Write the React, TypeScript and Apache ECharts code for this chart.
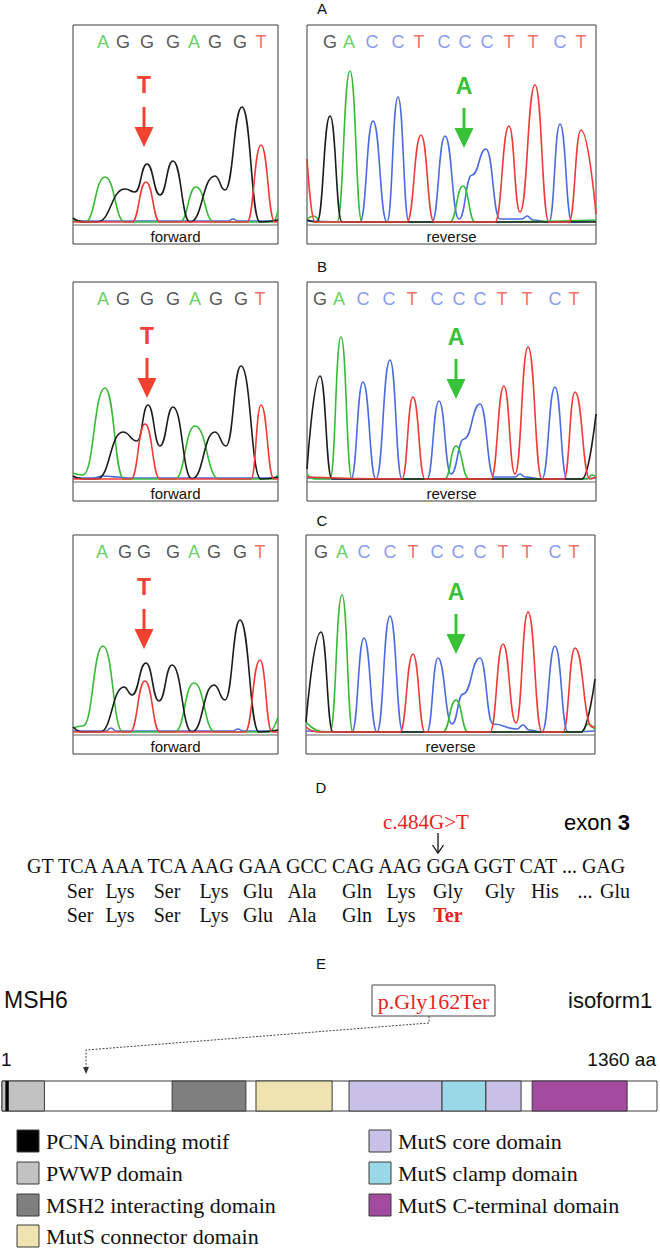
import React, { useEffect, useRef } from 'react';
import * as echarts from 'echarts';

type Pt = [number, number];

// ---------------- Panel A ----------------
const aFwdBlue: Pt[] = [[0, 1], [155, 1], [160, 3], [165, 1], [205, 1]];
const aFwdGreen: Pt[] = [[0, 2], [12, 0], [32, 45], [52, 0], [107, 0], [123, 35], [141, 0], [200, 0], [205, 12]];
const aFwdBlack: Pt[] = [[0, 4], [11, 0], [24, 0], [52, 33], [62, 30], [74, 58], [87, 27], [100, 61], [117, 0], [142, 46], [152, 32], [169, 115], [187, 0], [205, 2]];
const aFwdRed: Pt[] = [[0, 0], [59, 0], [73, 40], [87, 0], [174, 0], [188, 77], [202, 0], [205, 0]];
const aFwdCalls = ['A', 'G', 'G', 'G', 'A', 'G', 'G', 'T'];
const aFwdCallPos = [30, 50, 74, 100, 121, 142, 167, 188];

const aRevBlue: Pt[] = [[0, 1], [53, 0], [66, 101], [80, 0], [91, 125], [102, 0], [125, 0], [138, 86], [152, 3], [165, 47], [179, 73], [193, 3], [215, 3], [220, 6], [226, 2], [242, 0], [253, 98], [265, 0], [289, 1]];
const aRevGreen: Pt[] = [[0, 3], [7, 6], [14, 0], [30, 0], [43, 151], [55, 0], [143, 0], [156, 36], [168, 0], [289, 2]];
const aRevBlack: Pt[] = [[0, 2], [10, 0], [23, 106], [35, 0], [289, 0]];
const aRevRed: Pt[] = [[0, 63], [8, 0], [100, 0], [114, 87], [127, 0], [188, 0], [202, 96], [213, 10], [228, 137], [242, 0], [262, 0], [274, 92], [289, 8]];
const aRevCalls = ['G', 'A', 'C', 'C', 'T', 'C', 'C', 'C', 'T', 'T', 'C', 'T'];
const aRevCallPos = [23, 42, 65, 91, 112, 137, 158, 180, 202, 226, 253, 274];

// ---------------- Panel B ----------------
const bFwdBlue: Pt[] = [[0, 1], [20, 1], [30, 3], [45, 2], [55, 1], [205, 1]];
const bFwdGreen: Pt[] = [[0, 6], [10, 4], [32, 91], [51, 0], [102, 0], [122, 53], [146, 0], [200, 0], [205, 4]];
const bFwdBlack: Pt[] = [[0, 3], [10, 0], [24, 0], [50, 47], [64, 38], [75, 74], [87, 33], [100, 72], [119, 0], [142, 47], [153, 33], [168, 113], [188, 0], [205, 2]];
const bFwdRed: Pt[] = [[0, 0], [58, 0], [72, 55], [87, 0], [178, 0], [188, 74], [201, 0], [205, 0]];
const bFwdCalls = ['A', 'G', 'G', 'G', 'A', 'G', 'G', 'T'];
const bFwdCallPos = [30, 50, 74, 100, 122, 143, 168, 187];

const bRevBlue: Pt[] = [[0, 1], [44, 0], [56, 97], [69, 0], [83, 119], [95, 0], [120, 0], [132, 78], [144, 5], [157, 40], [173, 75], [187, 2], [208, 2], [213, 5], [218, 2], [235, 0], [248, 92], [260, 0], [289, 1]];
const bRevGreen: Pt[] = [[0, 5], [8, 0], [23, 0], [34, 142], [45, 0], [138, 0], [149, 33], [162, 0], [280, 0], [285, 4], [289, 2]];
const bRevBlack: Pt[] = [[0, 10], [13, 103], [25, 0], [275, 0], [289, 65]];
const bRevRed: Pt[] = [[0, 2], [95, 0], [106, 82], [118, 0], [184, 0], [197, 93], [208, 5], [221, 132], [235, 0], [257, 0], [268, 87], [283, 0], [289, 2]];
const bRevCalls = ['G', 'A', 'C', 'C', 'T', 'C', 'C', 'C', 'T', 'T', 'C', 'T'];
const bRevCallPos = [13, 32, 56, 82, 105, 130, 152, 173, 195, 220, 248, 267];

// ---------------- Panel C ----------------
const cFwdBlue: Pt[] = [[0, 1], [33, 1], [38, 4], [43, 1], [160, 1], [165, 3], [170, 1], [205, 1]];
const cFwdGreen: Pt[] = [[0, 4], [10, 6], [30, 86], [50, 0], [102, 0], [121, 49], [142, 0], [196, 0], [205, 15]];
const cFwdBlack: Pt[] = [[0, 5], [10, 0], [27, 0], [51, 45], [59, 37], [73, 69], [86, 31], [99, 67], [119, 0], [141, 47], [152, 32], [167, 112], [186, 0], [205, 2]];
const cFwdRed: Pt[] = [[0, 0], [57, 0], [72, 51], [87, 0], [172, 0], [187, 72], [199, 0], [205, 0]];
const cFwdCalls = ['A', 'G', 'G', 'G', 'A', 'G', 'G', 'T'];
const cFwdCallPos = [29, 52, 71, 100, 121, 141, 167, 187];

const cRevBlue: Pt[] = [[0, 1], [46, 0], [58, 94], [71, 0], [84, 116], [97, 0], [121, 0], [132, 74], [146, 8], [157, 38], [174, 74], [187, 8], [211, 3], [217, 7], [223, 2], [236, 0], [249, 86], [262, 0], [289, 1]];
const cRevGreen: Pt[] = [[0, 10], [17, 0], [24, 0], [36, 137], [47, 0], [137, 0], [150, 32], [162, 0], [276, 0], [282, 8], [289, 2]];
const cRevBlack: Pt[] = [[0, 10], [15, 100], [27, 0], [275, 0], [289, 53]];
const cRevRed: Pt[] = [[0, 5], [12, 0], [94, 0], [107, 78], [119, 0], [184, 0], [197, 88], [210, 9], [222, 120], [236, 0], [257, 0], [269, 84], [286, 5], [289, 5]];
const cRevCalls = ['G', 'A', 'C', 'C', 'T', 'C', 'C', 'C', 'T', 'T', 'C', 'T'];
const cRevCallPos = [15, 36, 58, 84, 107, 131, 152, 174, 197, 221, 249, 268];

// ---------------- Panel D ----------------
const codons = ['GT', 'TCA', 'AAA', 'TCA', 'AAG', 'GAA', 'GCC', 'CAG', 'AAG', 'GGA', 'GGT', 'CAT', '...', 'GAG'];
const refAminoAcids = ['Ser', 'Lys', 'Ser', 'Lys', 'Glu', 'Ala', 'Gln', 'Lys', 'Gly', 'Gly', 'His', '...', 'Glu'];
const mutAminoAcids = ['Ser', 'Lys', 'Ser', 'Lys', 'Glu', 'Ala', 'Gln', 'Lys', 'Ter'];
const variantLabel = 'c.484G>T';
const proteinVariant = 'p.Gly162Ter';

// ---------------- Panel E ----------------
const proteinLength = 1360;
const domainNames = ['PCNA binding motif', 'PWWP domain', 'MSH2 interacting domain', 'MutS connector domain', 'MutS core domain', 'MutS clamp domain', 'MutS C-terminal domain'];
// [start aa, end aa, domain index] ; -1 = backbone
const domainSegments: [number, number, number][] = [
  [1, 1360, -1], [1, 89, 1], [8, 15, 0], [354, 507, 2], [528, 686, 3],
  [721, 914, 4], [914, 1005, 5], [1005, 1078, 4], [1101, 1298, 6],
];

// ---------------- styles / layout ----------------
const domainColors = ['#000000', '#c2c2c2', '#7f7f7f', '#f0e3b2', '#c8c0e6', '#9ad8e8', '#a24b9f'];
const TRACE_COLORS = ['#4a6be2', '#36bb36', '#1c1c1c', '#f03a36']; // C, A, G, T
const CALL_COLORS: Record<string, string> = { A: '#3cc23c', C: '#6b80ee', G: '#2a2a2a', T: '#f24a3c' };
const MUT_COLORS: Record<string, string> = { A: '#38c238', T: '#f2412f' };
const BOX_H = 219;
const STRIP = 22;
const SANS = '"Liberation Sans", Arial, sans-serif';
const SERIF = '"Liberation Serif", "Times New Roman", serif';

const panels = [
  { left: 73, top: 25, width: 205, traces: [aFwdBlue, aFwdGreen, aFwdBlack, aFwdRed], calls: aFwdCalls, pos: aFwdCallPos, label: 'forward', mut: 'T', mx: 144, my: 85 },
  { left: 307, top: 25, width: 289, traces: [aRevBlue, aRevGreen, aRevBlack, aRevRed], calls: aRevCalls, pos: aRevCallPos, label: 'reverse', mut: 'A', mx: 464, my: 86 },
  { left: 73, top: 282, width: 205, traces: [bFwdBlue, bFwdGreen, bFwdBlack, bFwdRed], calls: bFwdCalls, pos: bFwdCallPos, label: 'forward', mut: 'T', mx: 147, my: 336 },
  { left: 307, top: 282, width: 289, traces: [bRevBlue, bRevGreen, bRevBlack, bRevRed], calls: bRevCalls, pos: bRevCallPos, label: 'reverse', mut: 'A', mx: 456, my: 337 },
  { left: 73, top: 535, width: 205, traces: [cFwdBlue, cFwdGreen, cFwdBlack, cFwdRed], calls: cFwdCalls, pos: cFwdCallPos, label: 'forward', mut: 'T', mx: 144, my: 587 },
  { left: 306, top: 535, width: 289, traces: [cRevBlue, cRevGreen, cRevBlack, cRevRed], calls: cRevCalls, pos: cRevCallPos, label: 'reverse', mut: 'A', mx: 456, my: 592 },
];
const panelLetters: [string, number, number][] = [['A', 322, 8], ['B', 322, 266], ['C', 322, 520], ['D', 321, 787], ['E', 321, 963]];
const aaX = [80, 120, 167, 214, 258, 302, 357, 401, 448, 500, 545, 585, 615];
const legendSlots: [number, number][] = [[17, 1141], [17, 1173], [17, 1205], [17, 1236], [369, 1141], [369, 1173], [369, 1205]];
const legendOrder = [0, 1, 2, 3, 4, 5, 6];

function txt(text: string, x: number, y: number, font: string, fill = '#111', align = 'center', extra: any = {}) {
  return {
    type: 'text', silent: true, z: 100,
    style: { text, x, y, font, fill, textAlign: align, textVerticalAlign: 'middle', align, verticalAlign: 'middle', ...extra },
  };
}

export default function App() {
  const ref = useRef<HTMLDivElement>(null);
  useEffect(() => {
    const chart = echarts.init(ref.current!, null, { renderer: 'svg' });
    const grids: any[] = [];
    const xAxes: any[] = [];
    const yAxes: any[] = [];
    const series: any[] = [];
    const g: any[] = [];

    panels.forEach((p, i) => {
      grids.push({ left: p.left, top: p.top, width: p.width, height: BOX_H, show: true, borderColor: '#3a3a3a', borderWidth: 1 });
      xAxes.push({ gridIndex: i, type: 'value', min: 0, max: p.width, show: false });
      yAxes.push({ gridIndex: i, type: 'value', min: -STRIP, max: BOX_H - STRIP, show: false });
      p.traces.forEach((t, k) => {
        series.push({
          type: 'line', xAxisIndex: i, yAxisIndex: i, data: t, smooth: 0.5, smoothMonotone: 'x',
          symbol: 'none', showSymbol: false, silent: true, z: 2 + k,
          lineStyle: { color: TRACE_COLORS[k], width: 1.6 },
        });
      });
      series.push({
        type: 'scatter', xAxisIndex: i, yAxisIndex: i, symbolSize: 1, silent: true, z: 10,
        itemStyle: { color: 'rgba(0,0,0,0)' },
        label: { show: true, position: 'inside', formatter: '{b}', fontSize: 18, fontFamily: SANS },
        data: p.pos.map((x, k) => ({ name: p.calls[k], value: [x, BOX_H - STRIP - 17], label: { color: CALL_COLORS[p.calls[k]] } })),
      });
      const base = p.top + BOX_H - STRIP;
      g.push({ type: 'line', silent: true, z: 90, shape: { x1: p.left, y1: base + 3, x2: p.left + p.width, y2: base + 3 }, style: { stroke: '#666', lineWidth: 1 } });
      g.push(txt(p.label, p.left + p.width / 2, base + 14, `15px ${SANS}`, '#111'));
      const col = MUT_COLORS[p.mut];
      g.push(txt(p.mut, p.mx, p.my, `bold 23px ${SANS}`, col));
      g.push({ type: 'rect', silent: true, z: 100, shape: { x: p.mx - 1.5, y: p.my + 22, width: 3, height: 21 }, style: { fill: col } });
      g.push({ type: 'polygon', silent: true, z: 100, shape: { points: [[p.mx - 9.5, p.my + 42], [p.mx + 9.5, p.my + 42], [p.mx, p.my + 62]] }, style: { fill: col } });
    });

    // domain bar
    const gi = panels.length;
    grids.push({ left: 2, top: 1081, width: 655, height: 30, show: false });
    xAxes.push({ gridIndex: gi, type: 'value', min: 1, max: proteinLength, show: false });
    yAxes.push({ gridIndex: gi, type: 'value', min: 0, max: 1, show: false });
    series.push({
      type: 'custom', xAxisIndex: gi, yAxisIndex: gi, silent: true, data: domainSegments,
      encode: { x: [0, 1] },
      renderItem: (params: any, api: any) => {
        const s = api.coord([api.value(0), 1]);
        const e = api.coord([api.value(1), 0]);
        const idx = api.value(2);
        return {
          type: 'rect',
          shape: { x: s[0], y: s[1], width: e[0] - s[0], height: e[1] - s[1] },
          style: { fill: idx < 0 ? '#ffffff' : domainColors[idx], stroke: idx === 0 ? null : '#3a3a3a', lineWidth: 1 },
        };
      },
    });

    // panel letters
    panelLetters.forEach(([t, x, y]) => g.push(txt(t, x, y, `15px ${SANS}`, '#111')));

    // D: sequence
    g.push(txt(variantLabel, 426, 822, `21px ${SERIF}`, '#e8231d'));
    g.push({
      type: 'text', silent: true, z: 100,
      style: {
        text: '{a|exon }{b|3}', x: 564, y: 822, textAlign: 'left', textVerticalAlign: 'middle', align: 'left', verticalAlign: 'middle',
        rich: { a: { fontSize: 22, fontFamily: SANS, color: '#111' }, b: { fontSize: 22, fontWeight: 'bold', fontFamily: SANS, color: '#111' } },
      },
    });
    g.push({ type: 'line', silent: true, z: 100, shape: { x1: 438, y1: 833, x2: 438, y2: 853 }, style: { stroke: '#111', lineWidth: 1.3 } });
    g.push({ type: 'polyline', silent: true, z: 100, shape: { points: [[432.5, 845], [438, 853], [443.5, 845]] }, style: { stroke: '#111', lineWidth: 1.3, fill: null } });
    g.push(txt(codons.join(' '), 27, 866, `20px ${SERIF}`, '#111', 'left'));
    refAminoAcids.forEach((c, i) => g.push(txt(c, aaX[i], 891, `20px ${SERIF}`, '#111')));
    mutAminoAcids.forEach((c, i) => {
      const isTer = c === 'Ter';
      g.push(txt(c, aaX[i], 915, `${isTer ? 'bold ' : ''}20px ${SERIF}`, isTer ? '#e8231d' : '#111'));
    });

    // E: protein
    g.push(txt('MSH6', 4, 1000, `23px ${SANS}`, '#111', 'left'));
    g.push({ type: 'rect', silent: true, z: 100, shape: { x: 372, y: 985, width: 123, height: 31 }, style: { fill: '#fff', stroke: '#444', lineWidth: 1 } });
    g.push(txt(proteinVariant, 433.5, 1001, `22px ${SERIF}`, '#e8231d'));
    g.push(txt('isoform1', 568, 1000, `22px ${SANS}`, '#111', 'left'));
    g.push({ type: 'polyline', silent: true, z: 100, shape: { points: [[429, 1016], [429, 1023], [86, 1050], [86, 1072]] }, style: { stroke: '#444', lineWidth: 1, lineDash: [2, 1.5], fill: null } });
    g.push({ type: 'polygon', silent: true, z: 100, shape: { points: [[83, 1067], [89, 1067], [86, 1074]] }, style: { fill: '#333' } });
    g.push(txt('1', 1, 1059, `19px ${SANS}`, '#111', 'left'));
    g.push(txt(`${proteinLength} aa`, 656, 1059, `19px ${SANS}`, '#111', 'right'));

    // legend
    legendOrder.forEach((d, i) => {
      const [x, y] = legendSlots[i];
      g.push({ type: 'rect', silent: true, z: 100, shape: { x, y: y - 11, width: 22, height: 22 }, style: { fill: domainColors[d], stroke: '#3a3a3a', lineWidth: 1 } });
      g.push(txt(domainNames[d], x + 29, y, `22px ${SERIF}`, '#111', 'left'));
    });

    chart.setOption({
      animation: false,
      backgroundColor: '#ffffff',
      grid: grids,
      xAxis: xAxes,
      yAxis: yAxes,
      series,
      graphic: { elements: g },
    });
    return () => chart.dispose();
  }, []);
  return <div ref={ref} style={{ position: 'absolute', left: 0, top: 0, width: 660, height: 1248, background: '#fff' }} />;
}
